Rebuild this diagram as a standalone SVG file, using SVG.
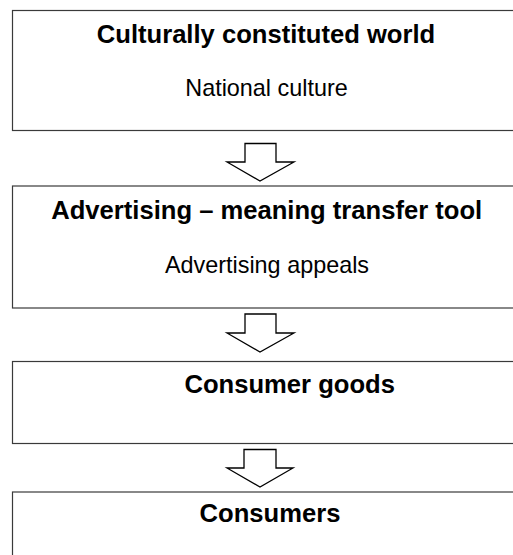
<svg xmlns="http://www.w3.org/2000/svg" width="513" height="555" viewBox="0 0 513 555">
<style>
.box{fill:#fff;stroke:#3a3a3a;stroke-width:1.2}
.arr{fill:#fff;stroke:#000;stroke-width:1.3;stroke-linejoin:miter}
.t{font-family:"Liberation Sans",Arial,sans-serif;font-weight:bold;font-size:25.6px;fill:#000;text-anchor:middle}
.s{font-family:"Liberation Sans",Arial,sans-serif;font-size:23.4px;fill:#000;text-anchor:middle}
</style>
<rect width="513" height="555" fill="#fff"/>
<g id="node-culture">
<rect class="box" x="12.5" y="10.5" width="520" height="120"/>
<text class="t" x="266" y="42.5">Culturally constituted world</text>
<text class="s" x="266.5" y="96">National culture</text>
</g>
<g id="node-advertising">
<rect class="box" x="12.5" y="186" width="520" height="122"/>
<text class="t" x="266.7" y="218.5">Advertising – meaning transfer tool</text>
<text class="s" x="267" y="272.5">Advertising appeals</text>
</g>
<g id="node-goods">
<rect class="box" x="12.5" y="361.5" width="520" height="82"/>
<text class="t" x="289.7" y="393.3">Consumer goods</text>
</g>
<g id="node-consumers">
<rect class="box" x="12.5" y="492" width="520" height="80"/>
<text class="t" x="270" y="522.3">Consumers</text>
</g>
<g id="connectors">
<polygon class="arr" points="245,143.5 276,143.5 276,162 294,162 260,181 227,162 245,162"/>
<polygon class="arr" points="245,314 276,314 276,333 294,333 260,352 227,333 245,333"/>
<polygon class="arr" points="244,449.5 276,449.5 276,468 293,468 260,487 227,468 244,468"/>
</g>
</svg>
